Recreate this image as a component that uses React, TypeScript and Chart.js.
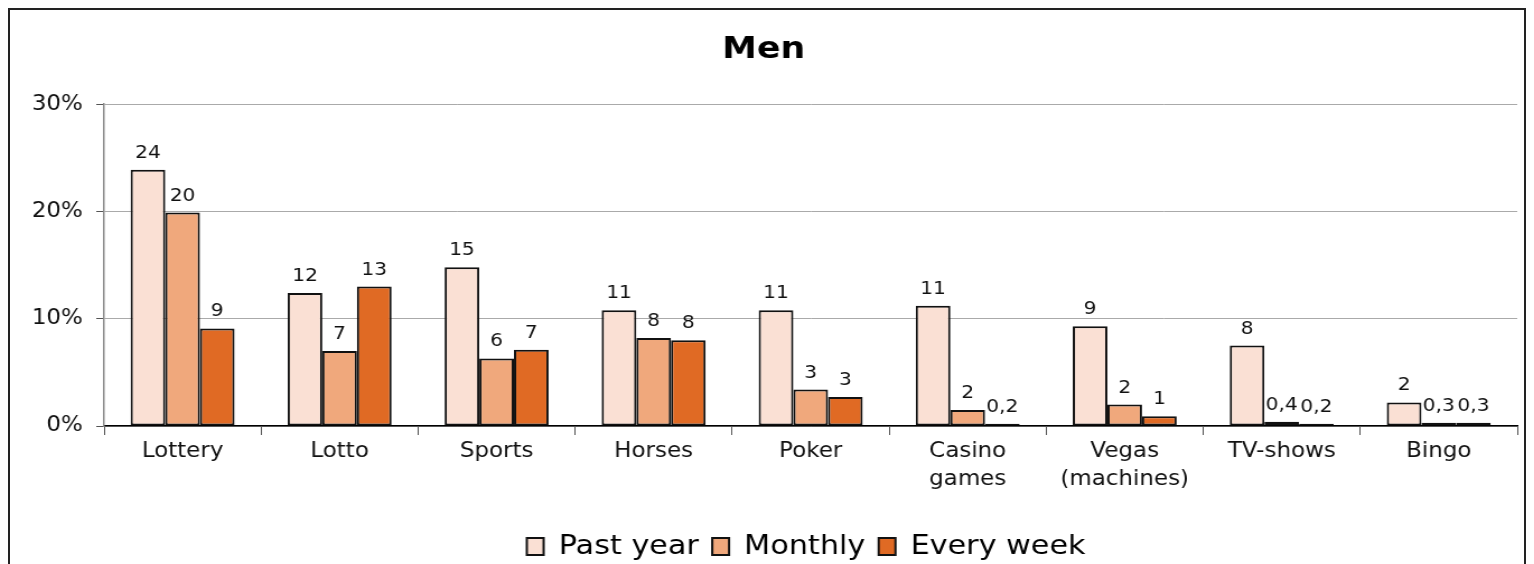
import React, { useEffect, useRef } from "react";
import { Chart, registerables } from "chart.js";

Chart.register(...registerables);

const categories: (string | string[])[] = [
  "Lottery",
  "Lotto",
  "Sports",
  "Horses",
  "Poker",
  ["Casino", "games"],
  ["Vegas", "(machines)"],
  "TV-shows",
  "Bingo",
];
const pastYear = [23.9, 12.4, 14.8, 10.8, 10.8, 11.2, 9.3, 7.5, 2.2];
const monthly = [19.9, 7.0, 6.3, 8.2, 3.4, 1.5, 2.0, 0.4, 0.3];
const everyWeek = [9.1, 13.0, 7.1, 8.0, 2.7, 0.2, 0.9, 0.2, 0.3];
const pastYearLabels = ["24", "12", "15", "11", "11", "11", "9", "8", "2"];
const monthlyLabels = ["20", "7", "6", "8", "3", "2", "2", "0,4", "0,3"];
const everyWeekLabels = ["9", "13", "7", "8", "3", "0,2", "1", "0,2", "0,3"];
const yTicks = [0, 10, 20, 30];

const FONT = "'DejaVu Sans', Verdana, sans-serif";
const OUT_W = 1514;
const CANVAS_W = 1352;
const CANVAS_H = 560;
const SX = OUT_W / CANVAS_W;
const LEGEND_SHIFT = 38;

const valueLabels = {
  id: "valueLabels",
  afterLayout(chart: any) {
    const lg = chart.legend;
    if (lg) {
      lg.left += LEGEND_SHIFT;
      lg.right += LEGEND_SHIFT;
    }
  },
  afterDatasetsDraw(chart: any) {
    const ctx = chart.ctx;
    ctx.save();
    ctx.font = `18px ${FONT}`;
    ctx.fillStyle = "#111";
    ctx.textAlign = "center";
    ctx.textBaseline = "alphabetic";
    chart.data.datasets.forEach((ds: any, i: number) => {
      const meta = chart.getDatasetMeta(i);
      meta.data.forEach((bar: any, j: number) => {
        ctx.fillText(ds.valueLabels[j], bar.x, bar.y - 12);
      });
    });
    ctx.restore();
  },
};

export default function App() {
  const ref = useRef<HTMLCanvasElement>(null);
  useEffect(() => {
    if (!ref.current) return;
    const common = {
      borderColor: "#111",
      borderWidth: 2,
      borderSkipped: false,
      barPercentage: 1,
      categoryPercentage: 0.662,
    };
    const chart = new Chart(ref.current, {
      type: "bar",
      data: {
        labels: categories,
        datasets: [
          { label: "Past year", data: pastYear, backgroundColor: "#FAE0D4", valueLabels: pastYearLabels, ...common } as any,
          { label: "Monthly", data: monthly, backgroundColor: "#F0A87C", valueLabels: monthlyLabels, ...common } as any,
          { label: "Every week", data: everyWeek, backgroundColor: "#E06A24", valueLabels: everyWeekLabels, ...common } as any,
        ],
      },
      options: {
        animation: false,
        responsive: false,
        devicePixelRatio: 1,
        layout: { padding: { left: 0, right: 6, top: 0, bottom: 0 } },
        plugins: {
          title: {
            display: true,
            text: "Men",
            color: "#000",
            font: { family: FONT, size: 31, weight: "bold" },
            padding: { top: 21, bottom: 36 },
          },
          legend: {
            position: "bottom",
            labels: {
              color: "#000",
              font: { family: FONT, size: 27 },
              boxWidth: 15,
              boxHeight: 17,
              padding: 12,
            },
          },
          tooltip: { enabled: false },
        },
        scales: {
          x: {
            afterFit(scale: any) {
              scale.height = 95;
            },
            grid: { offset: true, drawOnChartArea: false, tickLength: 9, color: "#555", lineWidth: 1 },
            border: { color: "#000", width: 1.5 },
            ticks: {
              color: "#111",
              font: { family: FONT, size: 20.5, lineHeight: 1.35 },
              padding: 3,
              maxRotation: 0,
              autoSkip: false,
            },
          },
          y: {
            min: 0,
            max: 30,
            afterFit(scale: any) {
              scale.width = 84;
            },
            afterBuildTicks(scale: any) {
              scale.ticks = yTicks.map((v) => ({ value: v }));
            },
            grid: { color: "#aaa", lineWidth: 1, tickLength: 7, tickColor: "#555" },
            border: { color: "#888", width: 1.5 },
            ticks: {
              color: "#111",
              font: { family: FONT, size: 20.5 },
              padding: 12,
              callback: (v: any) => `${v}%`,
            },
          },
        },
      } as any,
      plugins: [valueLabels],
    });
    return () => chart.destroy();
  }, []);
  return (
    <div style={{ width: OUT_W, height: 570, border: "2px solid #222", background: "#fff", overflow: "hidden" }}>
      <div style={{ width: OUT_W, height: CANVAS_H, overflow: "hidden" }}>
        <canvas
          ref={ref}
          width={CANVAS_W}
          height={CANVAS_H}
          style={{
            display: "block",
            width: CANVAS_W,
            height: CANVAS_H,
            transform: `scaleX(${SX})`,
            transformOrigin: "0 0",
          }}
        />
      </div>
    </div>
  );
}
